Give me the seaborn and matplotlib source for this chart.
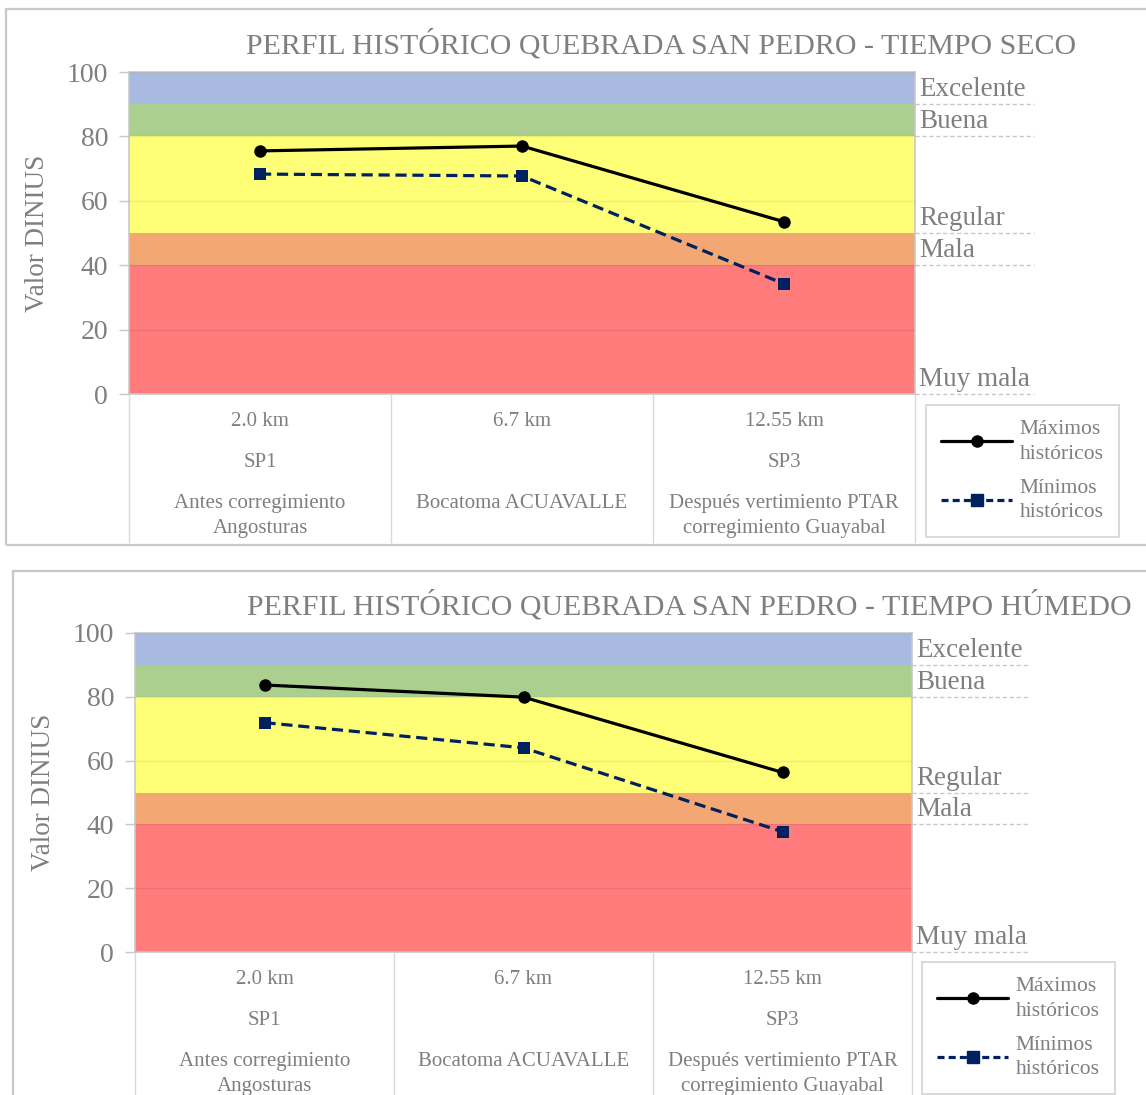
import numpy as np
import pandas as pd
import matplotlib
matplotlib.use("Agg")
import matplotlib.pyplot as plt
import matplotlib.transforms as mtransforms
from matplotlib.patches import Rectangle
from matplotlib.lines import Line2D
import seaborn as sns

# data
stations_km = ["2.0 km", "6.7 km", "12.55 km"]
stations_code = ["SP1", "", "SP3"]
stations_name = ["Antes corregimiento\nAngosturas", "Bocatoma ACUAVALLE",
                 "Después vertimiento PTAR\ncorregimiento Guayabal"]

seco_max = [75.5, 77.0, 53.5]
seco_min = [68.3, 67.7, 34.2]
humedo_max = [83.7, 79.9, 56.3]
humedo_min = [71.9, 64.0, 37.7]

band_edges = [0, 40, 50, 80, 90, 100]
band_names = ["Muy mala", "Mala", "Regular", "Buena", "Excelente"]
band_colors = ["#ff7b7c", "#f3a873", "#ffff77", "#aacf8e", "#a8bae0"]
y_ticks = [0, 20, 40, 60, 80, 100]

sns.set_theme(style="white")
plt.rcParams['font.family'] = ['Liberation Serif', 'DejaVu Serif']

GREY = "#7f7f7f"
LINE_GREY = "#c8c8c8"
NAVY = "#002060"

W, H = 1146, 1095
fig = plt.figure(figsize=(W / 100, H / 100), dpi=100)


def px_box(left, top, right, bottom):
    return [left / W, (H - bottom) / H, (right - left) / W, (bottom - top) / H]


def draw_panel(border, axbox, title, title_x, title_y, maxs, mins, legend_xy):
    # outer chart border
    bl, bt, br, bb = border
    fig.patches.append(Rectangle((bl / W, (H - bb) / H), (br - bl) / W, (bb - bt) / H,
                                 transform=fig.transFigure, fill=False,
                                 edgecolor=LINE_GREY, linewidth=1.6))
    ax = fig.add_axes(px_box(*axbox))

    for lo, hi, c in zip(band_edges[:-1], band_edges[1:], band_colors):
        ax.axhspan(lo, hi, color=c, zorder=0.5, linewidth=0)

    df = pd.DataFrame({"pos": np.arange(len(stations_km)), "max": maxs, "min": mins})
    sns.lineplot(data=df, x="pos", y="max", ax=ax, color="black", linewidth=2.3,
                 marker="o", markersize=9, markeredgewidth=0, zorder=3)
    sns.lineplot(data=df, x="pos", y="min", ax=ax, color=NAVY, linewidth=2.3,
                 linestyle=(0, (3.5, 1.8)), marker="s", markersize=8.5,
                 markeredgewidth=0, zorder=3)

    ax.set_xlim(-0.5, len(stations_km) - 0.5)
    ax.set_ylim(0, 100)
    ax.set_yticks(y_ticks)
    ax.tick_params(axis="y", labelsize=20, labelcolor=GREY, color=LINE_GREY,
                   length=7, width=1, left=True, pad=8)
    ax.yaxis.grid(True, color="black", alpha=0.07, linewidth=1)
    ax.set_axisbelow(False)
    for s in ax.spines.values():
        s.set_color(LINE_GREY)
        s.set_linewidth(1.2)

    # category separators in the label area
    ax.set_xticks([])
    ax.set_xticks(np.arange(len(stations_km) + 1) - 0.5, minor=True)
    ax.tick_params(axis="x", which="minor", bottom=True, length=107,
                   color="#d9d9d9", width=1)
    ax.set_xlabel("")
    ax.set_ylabel("Valor DINIUS", fontsize=19.5, color=GREY, labelpad=12)

    for i, (km, code, name) in enumerate(zip(stations_km, stations_code, stations_name)):
        for txt, off, va in ((km, -20, "center"), (code, -49, "center"), (name, -72, "top")):
            ax.annotate(txt, xy=(i, 0), xycoords=("data", "axes fraction"),
                        xytext=(0, off), textcoords="offset points",
                        ha="center", va=va, fontsize=15, color=GREY,
                        linespacing=1.45)

    # quality labels on the right
    trans = mtransforms.blended_transform_factory(ax.transAxes, ax.transData)
    for lvl, name in zip(band_edges[:-1], band_names):
        ax.plot([1.0, 1.152], [lvl, lvl], transform=trans, clip_on=False,
                color=LINE_GREY, linewidth=1, linestyle=(0, (3, 2)))
        ax.text(1.005, lvl + 0.6, name, transform=trans, ha="left", va="bottom",
                fontsize=19.5, color=GREY)

    fig.text(title_x / W, (H - title_y) / H, title, ha="center", va="center",
             fontsize=21.5, color=GREY)

    handles = [Line2D([], [], color="black", linewidth=2.3, marker="o", markersize=8),
               Line2D([], [], color=NAVY, linewidth=2.3, linestyle=(0, (2.2, 1.3)),
                      marker="s", markersize=8)]
    leg = ax.legend(handles, ["Máximos\nhistóricos", "Mínimos\nhistóricos"],
                    loc="upper left", bbox_to_anchor=(legend_xy[0] / W, (H - legend_xy[1]) / H),
                    bbox_transform=fig.transFigure, fontsize=15.5, frameon=True,
                    fancybox=False, edgecolor=LINE_GREY, handlelength=3.3,
                    labelspacing=0.7, borderpad=0.7, handletextpad=0.35,
                    borderaxespad=0)
    for t in leg.get_texts():
        t.set_color(GREY)
        t.set_linespacing(1.4)
    leg.get_frame().set_linewidth(1.2)
    return ax


draw_panel((6, 9, 1160, 545), (129, 72, 915, 394),
           "PERFIL HISTÓRICO QUEBRADA SAN PEDRO - TIEMPO SECO", 661, 44,
           seco_max, seco_min, (926, 405))
draw_panel((13, 571, 1160, 1110), (135, 633, 912, 952),
           "PERFIL HISTÓRICO QUEBRADA SAN PEDRO - TIEMPO HÚMEDO", 689, 605,
           humedo_max, humedo_min, (922, 962))

plt.savefig("out.png", dpi=100)
plt.close()
